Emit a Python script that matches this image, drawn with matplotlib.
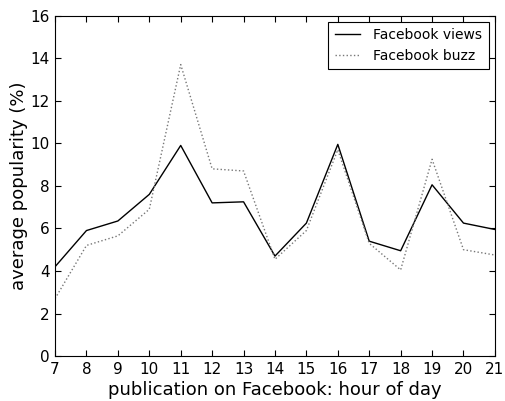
import matplotlib
matplotlib.use('Agg')
import matplotlib.pyplot as plt

hours = [7, 8, 9, 10, 11, 12, 13, 14, 15, 16, 17, 18, 19, 20, 21]
views = [4.2, 5.9, 6.35, 7.6, 9.9, 7.2, 7.25, 4.7, 6.25, 9.95, 5.4, 4.95, 8.05, 6.25, 5.95]
buzz = [2.7, 5.2, 5.65, 6.9, 13.7, 8.8, 8.7, 4.55, 5.9, 9.7, 5.3, 4.05, 9.25, 5.0, 4.75]

fig = plt.figure(figsize=(5.05, 4.01), dpi=100)
ax = fig.add_axes([0.109, 0.112, 0.871, 0.849])

ax.plot(hours, views, color='black', linewidth=1.0, label='Facebook views')
ax.plot(hours, buzz, color='#777777', linestyle=':', linewidth=1.0, label='Facebook buzz')

ax.set_xlim(7, 21)
ax.set_ylim(0, 16)
ax.set_xticks(hours)
ax.set_yticks(range(0, 17, 2))
ax.tick_params(direction='in', top=True, right=True, labelsize=11, length=4, pad=4)
ax.set_xlabel('publication on Facebook: hour of day', fontsize=13, labelpad=3)
ax.set_ylabel('average popularity (%)', fontsize=13)
# keep the y label close to the tick labels
ax.yaxis.set_label_coords(-0.062, 0.5)

leg = ax.legend(loc='upper right', fontsize=10, fancybox=False, framealpha=1,
                edgecolor='black', borderaxespad=0.45, handlelength=1.8,
                handletextpad=1.0, borderpad=0.45)
leg.get_frame().set_linewidth(0.8)

fig.savefig('out.png', dpi=100)
